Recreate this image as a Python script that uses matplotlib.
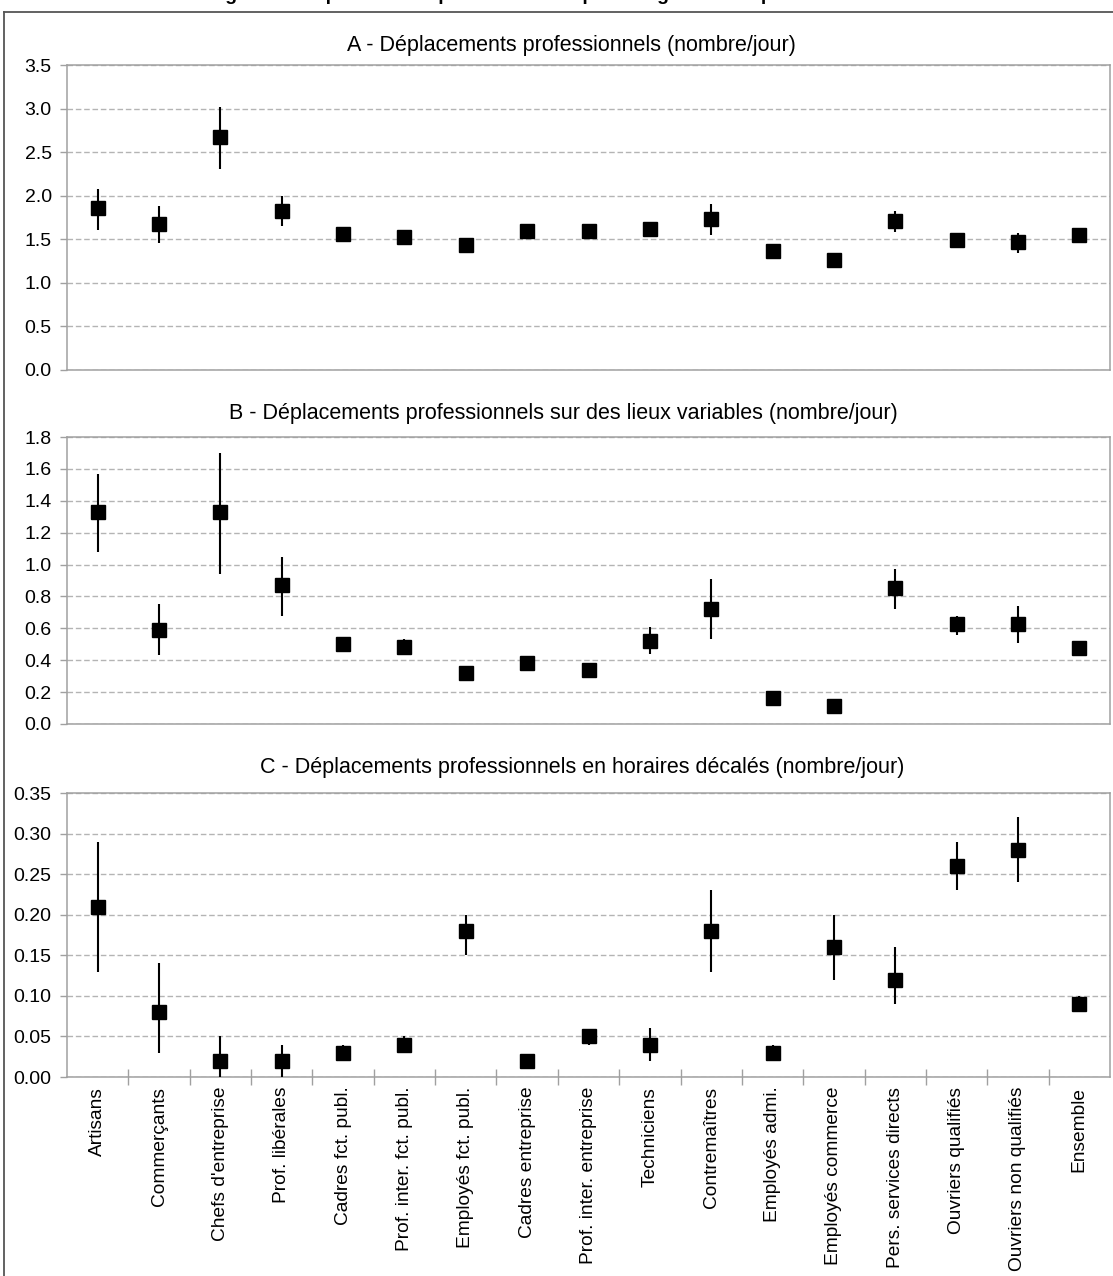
import numpy as np
import matplotlib
matplotlib.use("Agg")
import matplotlib.pyplot as plt
from matplotlib.lines import Line2D

plt.rcParams['font.family'] = ['Liberation Sans', 'DejaVu Sans']

# categories (x axis)
cats = ["Artisans", "Commerçants", "Chefs d'entreprise", "Prof. libérales",
        "Cadres fct. publ.", "Prof. inter. fct. publ.", "Employés fct. publ.",
        "Cadres entreprise", "Prof. inter. entreprise", "Techniciens",
        "Contremaîtres", "Employés admi.", "Employés commerce",
        "Pers. services directs", "Ouvriers qualifiés", "Ouvriers non qualifiés",
        "Ensemble"]

# A - déplacements professionnels
a_mean = [1.86, 1.67, 2.67, 1.83, 1.56, 1.53, 1.43, 1.59, 1.59, 1.62, 1.73, 1.37, 1.26, 1.71, 1.49, 1.47, 1.55]
a_low = [1.61, 1.46, 2.31, 1.65, 1.52, 1.49, 1.39, 1.55, 1.55, 1.58, 1.55, 1.33, 1.22, 1.58, 1.45, 1.34, 1.53]
a_high = [2.08, 1.88, 3.02, 2.00, 1.60, 1.57, 1.47, 1.63, 1.63, 1.66, 1.90, 1.41, 1.30, 1.82, 1.53, 1.57, 1.57]

# B - sur des lieux variables
b_mean = [1.33, 0.59, 1.33, 0.87, 0.50, 0.485, 0.32, 0.38, 0.34, 0.52, 0.72, 0.16, 0.11, 0.85, 0.625, 0.625, 0.475]
b_low = [1.08, 0.43, 0.94, 0.68, 0.45, 0.43, 0.28, 0.35, 0.31, 0.44, 0.53, 0.13, 0.07, 0.72, 0.56, 0.51, 0.45]
b_high = [1.57, 0.75, 1.70, 1.05, 0.54, 0.53, 0.36, 0.41, 0.37, 0.61, 0.91, 0.19, 0.14, 0.97, 0.68, 0.74, 0.50]

# C - en horaires décalés
c_mean = [0.21, 0.08, 0.02, 0.02, 0.03, 0.04, 0.18, 0.02, 0.05, 0.04, 0.18, 0.03, 0.16, 0.12, 0.26, 0.28, 0.09]
c_low = [0.13, 0.03, 0.00, 0.00, 0.02, 0.03, 0.15, 0.015, 0.04, 0.02, 0.13, 0.02, 0.12, 0.09, 0.23, 0.24, 0.085]
c_high = [0.29, 0.14, 0.05, 0.04, 0.04, 0.05, 0.20, 0.025, 0.055, 0.06, 0.23, 0.04, 0.20, 0.16, 0.29, 0.32, 0.10]

titles = ["A - Déplacements professionnels (nombre/jour)",
          "B - Déplacements professionnels sur des lieux variables (nombre/jour)",
          "C - Déplacements professionnels en horaires décalés (nombre/jour)"]

W, H = 1113, 1276
fig = plt.figure(figsize=(W / 100, H / 100), dpi=100)

def fx(px):
    return px / W

def fy(py):
    return 1 - py / H

# panel boxes in pixels: (top, bottom), ylim, step, fmt, title center (x, y)
panels = [
    (65, 370, 3.5, 0.5, '%.1f', (571, 45), a_mean, a_low, a_high),
    (437, 724, 1.8, 0.2, '%.1f', (563, 413), b_mean, b_low, b_high),
    (793, 1077, 0.35, 0.05, '%.2f', (582, 767), c_mean, c_low, c_high),
]
left, right = 67, 1110
x = np.arange(len(cats))
grey = '#a0a0a0'

axes = []
for i, (top, bot, ymax, step, fmt, tpos, m, lo, hi) in enumerate(panels):
    ax = fig.add_axes([fx(left), fy(bot), fx(right - left), (bot - top) / H])
    m = np.array(m)
    yerr = [m - np.array(lo), np.array(hi) - m]
    ax.errorbar(x, m, yerr=yerr, fmt='s', color='black', ms=9.5,
                elinewidth=1.5, capsize=0, zorder=3, clip_on=True)
    ax.set_xlim(-0.5, len(cats) - 0.5)
    ax.set_ylim(0, ymax)
    ticks = np.arange(0, ymax + step / 2, step)
    ax.set_yticks(ticks)
    ax.set_yticklabels([fmt % t for t in ticks])
    ax.yaxis.grid(True, color='#b4b4b4', linestyle=(0, (4, 2)), linewidth=1)
    ax.set_axisbelow(True)
    for s in ax.spines.values():
        s.set_color(grey)
        s.set_linewidth(1.1)
    ax.tick_params(axis='y', direction='out', length=5, color=grey,
                   labelsize=14, pad=6, width=1)
    if i < 2:
        ax.set_xticks([])
    else:
        ax.set_xticks(x)
        ax.set_xticklabels(cats, rotation=90, fontsize=13.8, va='top')
        ax.set_xticks(np.arange(0.5, len(cats) - 1, 1), minor=True)
        ax.tick_params(axis='x', which='major', length=0, pad=7)
        ax.tick_params(axis='x', which='minor', direction='inout',
                       length=11, color=grey, width=1)
    fig.text(fx(tpos[0]), fy(tpos[1]), titles[i], ha='center', va='center',
             fontsize=15.5)
    axes.append(ax)

# outer frame (top and left edges only visible)
fig.add_artist(Line2D([fx(4), 1.0], [fy(12), fy(12)], color='#555555', lw=1.3))
fig.add_artist(Line2D([fx(4), fx(4)], [fy(12), 0.0], color='#555555', lw=1.3))

# figure title, mostly cut off at the top of the image (as in the source)
fig.text(0.5, 1 + 0.5 / H, "Figure 2 - Déplacements professionnels par catégorie socioprofessionnelle",
         ha='center', va='baseline', fontsize=14, fontweight='bold')

fig.savefig('out.png', dpi=100)
